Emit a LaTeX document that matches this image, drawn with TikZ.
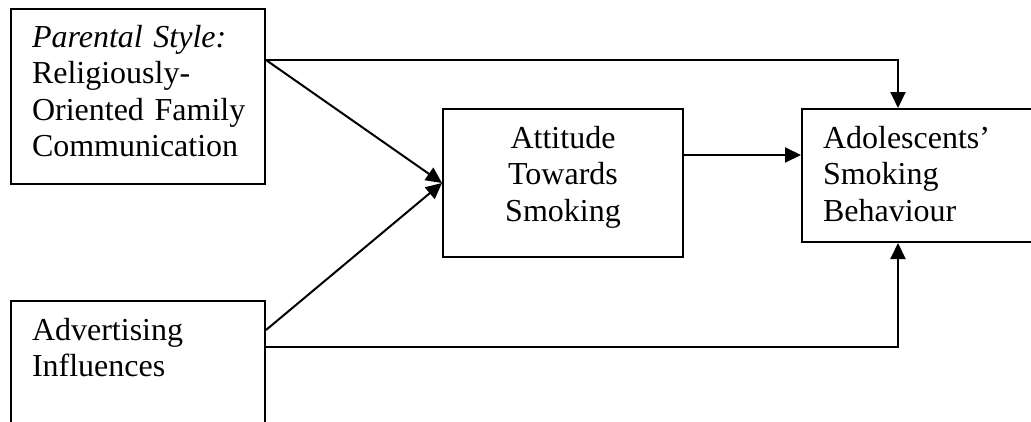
\documentclass[tikz,border=0pt]{standalone}
\usepackage{fontspec}
\setmainfont{Liberation Serif}
\usetikzlibrary{arrows.meta,calc}

\tikzset{
  box/.style={draw, line width=2pt, inner ysep=0pt, inner xsep=21pt, anchor=north west,
    text height=39pt, font=\fontsize{32}{36.5}\selectfont},
  arr/.style={line width=2pt, -{Triangle[length=16pt,width=15pt]}}
}

\begin{document}
\begin{tikzpicture}[x=1pt,y=-1pt]
    \useasboundingbox (0,0) rectangle (1031,421);

    % Influences
    \node[box, text width=212pt, align=left, text height=38pt, text depth=137pt] (par) at (10,8)
        {\textit{Parental Style:}\\ Religiously-\\ \mbox{Oriented Family}\\ Communication};
    \node[box, text width=212pt, align=left, text depth=136pt] (adv) at (10,300)
        {Advertising\\ Influences};

    % Mediator and outcome
    \node[box, text width=198pt, align=center, text depth=109pt] (att) at (442,108)
        {Attitude\\ Towards\\ Smoking};
    \node[box, text width=208pt, align=left, text depth=94pt] (beh) at (801,108)
        {Adolescents'\\ Smoking\\ Behaviour};

    % Paths
    \coordinate (parout) at ([yshift=-52pt]par.north east);
    \coordinate (advup) at ([yshift=-30pt]adv.north east);
    \coordinate (advout) at ([yshift=-47pt]adv.north east);
    \coordinate (attout) at ([yshift=-47pt]att.north east);

    \draw[arr] (parout) -- (att.west);
    \draw[arr] (advup) -- (att.west);
    \draw[arr] (attout) -- (attout -| beh.west);
    \draw[arr] (parout) -| ([xshift=97pt]beh.north west);
    \draw[arr] (advout) -| ([xshift=97pt]beh.south west);
\end{tikzpicture}
\end{document}
